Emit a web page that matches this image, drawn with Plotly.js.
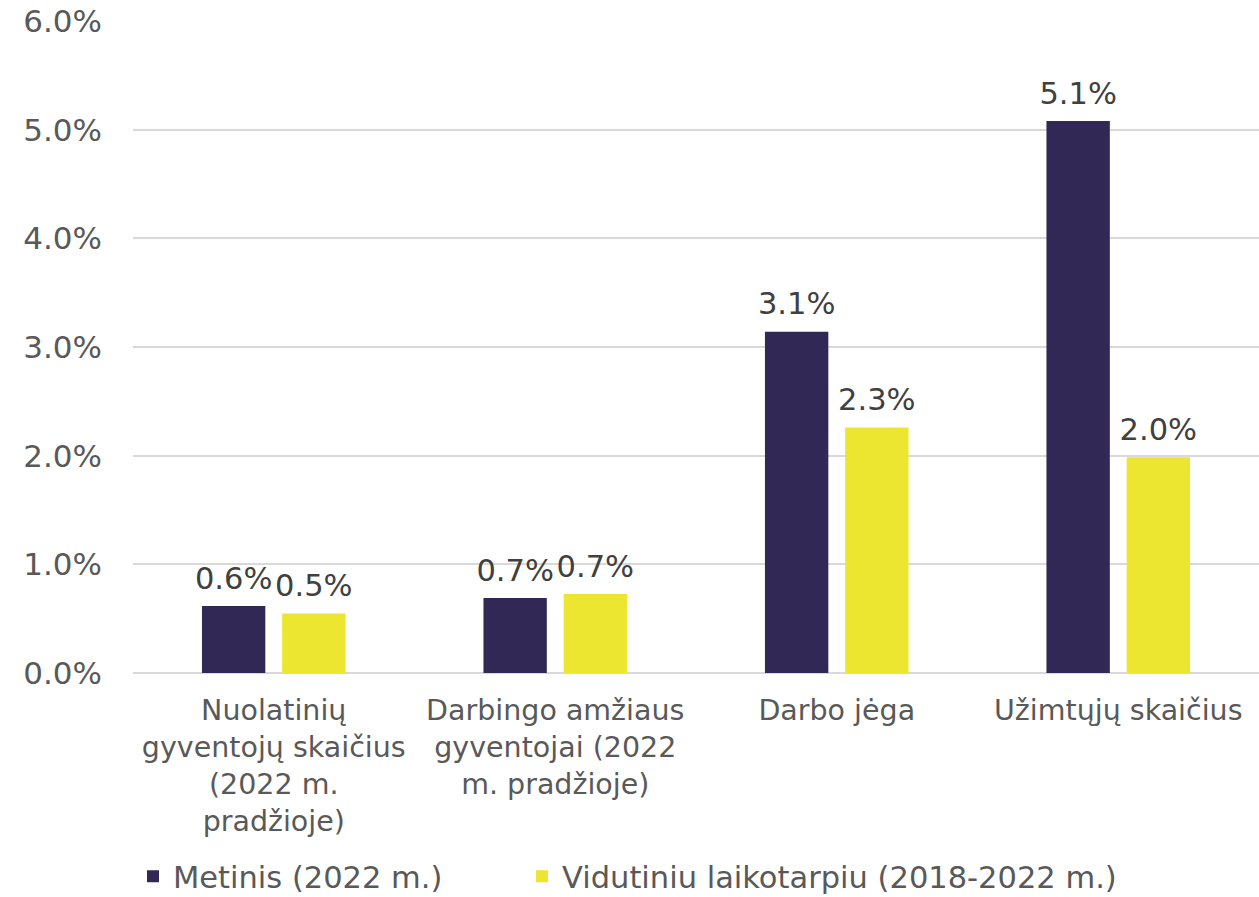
<!DOCTYPE html>
<html>
<head>
<meta charset="utf-8">
<script src="https://cdn.plot.ly/plotly-3.0.1.min.js"></script>
<style>html,body{margin:0;padding:0;background:#fff;}#chart{width:1259px;height:897px;}</style>
</head>
<body>
<div id="chart"></div>
<script>
var categories = [
  "Nuolatinių<br>gyventojų skaičius<br>(2022 m.<br>pradžioje)",
  "Darbingo amžiaus<br>gyventojai (2022<br>m. pradžioje)",
  "Darbo jėga",
  "Užimtųjų skaičius"
];
var seriesNames = ["Metinis (2022 m.)", "Vidutiniu laikotarpiu (2018-2022 m.)"];
var annualValues = [0.00616, 0.0069, 0.0314, 0.0508];
var mediumTermValues = [0.00548, 0.00726, 0.0226, 0.01985];
var tickValues = [0, 0.01, 0.02, 0.03, 0.04, 0.05, 0.06];
var seriesColors = ["#312856", "#ECE630"];
var seriesValues = [annualValues, mediumTermValues];

var font = "DejaVu Sans, Verdana, sans-serif";
var traces = [];
seriesValues.forEach(function (vals, i) {
  traces.push({
    type: "bar", name: seriesNames[i], x: categories, y: vals,
    marker: {color: seriesColors[i]},
    offsetgroup: "g" + i, alignmentgroup: "a",
    legend: i === 0 ? "legend" : "legend2",
    hoverinfo: "none"
  });
});
seriesValues.forEach(function (vals, i) {
  traces.push({
    type: "scatter", mode: "markers+text", x: categories, y: vals,
    offsetgroup: "g" + i, alignmentgroup: "a",
    showlegend: false, cliponaxis: false,
    marker: {size: 14, color: "rgba(0,0,0,0)"},
    texttemplate: "%{y:.1%}", textposition: "top center",
    textfont: {family: font, size: 30.5, color: "#404040"},
    hoverinfo: "none"
  });
});
var layout = {
  width: 1259, height: 897,
  margin: {l: 133, r: 0, t: 21, b: 224, autoexpand: false},
  paper_bgcolor: "#ffffff", plot_bgcolor: "#ffffff",
  font: {family: font, size: 28, color: "#595959"},
  barmode: "group", bargap: 0.43, bargroupgap: 0.21,
  scattermode: "group", scattergap: 0.43,
  showlegend: true,
  legend: {
    orientation: "h", x: 0.0, xanchor: "left", y: -0.312, yanchor: "middle",
    font: {family: font, size: 30.5, color: "#595959"},
    itemclick: false, itemdoubleclick: false
  },
  legend2: {
    orientation: "h", x: 0.3455, xanchor: "left", y: -0.312, yanchor: "middle",
    font: {family: font, size: 30.5, color: "#595959"},
    itemclick: false, itemdoubleclick: false
  },
  xaxis: {
    type: "category", showgrid: false, zeroline: false, showline: false,
    ticks: "", ticklabelstandoff: 17, automargin: false,
    tickfont: {family: font, size: 28.5, color: "#595959"}
  },
  yaxis: {
    range: [0, 0.06], tickvals: tickValues, tickformat: ".1%",
    showgrid: true, gridcolor: "#d9d9d9", gridwidth: 2,
    zeroline: true, zerolinecolor: "#d9d9d9", zerolinewidth: 2,
    showline: false, ticks: "", ticklabelstandoff: 30, automargin: false,
    tickfont: {family: font, size: 31, color: "#595959"}
  }
};
Plotly.newPlot("chart", traces, layout, {displayModeBar: false, staticPlot: true});
</script>
</body>
</html>
